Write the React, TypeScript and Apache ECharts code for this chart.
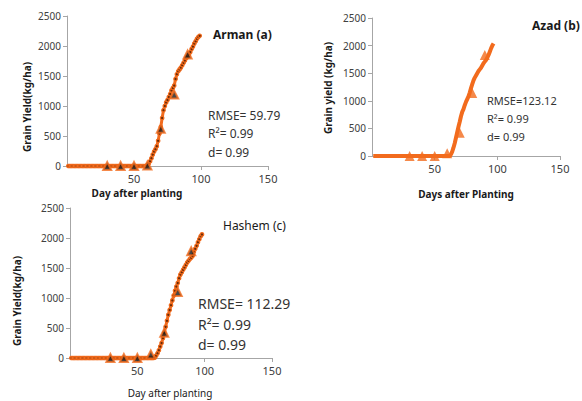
import React, { useEffect, useRef } from "react";
import * as echarts from "echarts";

const ORANGE = "#F26B1D";
const FONT = "'Noto Sans', sans-serif";

const xTicks = [0, 50, 100, 150];
const yTicks = [0, 500, 1000, 1500, 2000, 2500];

// Observed (measured) grain yield, triangles
const obsDays = [30, 40, 50, 60, 70, 80, 90];
const obsA = [0, 0, 0, 10, 620, 1190, 1860];
const obsB = [0, 0, 0, 50, 420, 1140, 1830];
const obsC = [0, 0, 0, 60, 420, 1100, 1780];

// Simulated grain yield, one value per day starting at day 1
const simA = [
  0, 0, 0, 0, 0, 0, 0, 0, 0, 0,
  0, 0, 0, 0, 0, 0, 0, 0, 0, 0,
  0, 0, 0, 0, 0, 0, 0, 0, 0, 0,
  0, 0, 0, 0, 0, 0, 0, 0, 0, 0,
  0, 0, 0, 0, 0, 0, 0, 0, 0, 0,
  0, 0, 0, 0, 0, 0, 0, 0,
  0, 15, 40, 80, 130, 190, 240, 280, 330, 420,
  540, 650, 800, 930, 1000, 1060, 1100, 1150, 1200, 1260,
  1300, 1340, 1450, 1530, 1580, 1610, 1640, 1680, 1720, 1760,
  1800, 1830, 1860, 1900, 1950, 1990, 2040, 2080, 2120, 2150,
  2170,
];
const simB = [
  0, 0, 0, 0, 0, 0, 0, 0, 0, 0,
  0, 0, 0, 0, 0, 0, 0, 0, 0, 0,
  0, 0, 0, 0, 0, 0, 0, 0, 0, 0,
  0, 0, 0, 0, 0, 0, 0, 0, 0, 0,
  0, 0, 0, 0, 0, 0, 0, 0, 0, 0,
  0, 0, 0, 0, 0, 0, 0, 0, 0, 0,
  0, 0,
  30, 80, 150, 230, 330, 430, 530, 620, 720, 800,
  850, 920, 980, 1030, 1080, 1150, 1230, 1300, 1370, 1420,
  1460, 1500, 1540, 1570, 1600, 1640, 1680, 1710, 1740, 1780,
  1830, 1890, 1950, 2000, 2040,
];
const simC = [
  0, 0, 0, 0, 0, 0, 0, 0, 0, 0,
  0, 0, 0, 0, 0, 0, 0, 0, 0, 0,
  0, 0, 0, 0, 0, 0, 0, 0, 0, 0,
  0, 0, 0, 0, 0, 0, 0, 0, 0, 0,
  0, 0, 0, 0, 0, 0, 0, 0, 0, 0,
  0, 0, 0, 0, 0, 0, 0, 0, 0, 0,
  0, 0,
  10, 40, 80, 130, 190, 250, 330, 420, 520, 620,
  720, 800, 880, 960, 1040, 1120, 1190, 1250, 1330, 1390,
  1430, 1470, 1510, 1550, 1590, 1620, 1650, 1670, 1700, 1770,
  1820, 1870, 1930, 1980, 2030, 2060,
];

const panelNames = ["Arman (a)", "Azad (b)", "Hashem (c)"];
const xTitles = ["Day after planting", "Days after Planting", "Day after planting"];
const yTitles = ["Grain Yield(kg/ha)", "Grain yield (kg/ha)", "Grain Yield(kg/ha)"];
const statsA = ["RMSE= 59.79", "R²= 0.99", "d= 0.99"];
const statsB = ["RMSE=123.12", "R²= 0.99", "d= 0.99"];
const statsC = ["RMSE= 112.29", "R²= 0.99", "d= 0.99"];

export default function App() {
  const ref = useRef<HTMLDivElement>(null);

  useEffect(() => {
    document.body.style.margin = "0";
    if (!ref.current) return;
    const chart = echarts.init(ref.current, null, { renderer: "svg" });

    const grids = [
      { left: 67, top: 16, width: 201, height: 150 },
      { left: 372, top: 18, width: 188, height: 138 },
      { left: 70, top: 208, width: 202, height: 150 },
    ];

    const axisLine = { show: true, lineStyle: { color: "#A6A6A6", width: 1 } };
    const axisTick = { show: true, inside: false, length: 4, lineStyle: { color: "#A6A6A6" } };

    const xAxes = grids.map((_, i) => ({
      type: "value",
      gridIndex: i,
      min: xTicks[0],
      max: xTicks[xTicks.length - 1],
      interval: 50,
      axisLine,
      axisTick,
      splitLine: { show: false },
      axisLabel: {
        showMinLabel: false,
        color: "#404040",
        fontSize: 11,
        fontFamily: FONT,
        margin: 7,
        formatter: (v: number) => String(v),
      },
    }));
    const yAxes = grids.map((_, i) => ({
      type: "value",
      gridIndex: i,
      min: yTicks[0],
      max: yTicks[yTicks.length - 1],
      interval: 500,
      axisLine,
      axisTick,
      splitLine: { show: false },
      axisLabel: {
        color: "#404040",
        fontSize: 10,
        fontFamily: FONT,
        margin: 6,
        formatter: (v: number) => String(v),
      },
    }));

    const sims = [simA, simB, simC];
    const obs = [obsA, obsB, obsC];

    const series: any[] = [];
    sims.forEach((s, i) => {
      const dotted = i !== 1;
      series.push({
        type: "line",
        xAxisIndex: i,
        yAxisIndex: i,
        data: s.map((v, d) => [d + 1, v]),
        showSymbol: dotted,
        symbol: "circle",
        symbolSize: 3.5,
        itemStyle: { color: "#6a2c08", borderColor: ORANGE, borderWidth: 1.2 },
        lineStyle: { color: ORANGE, width: dotted ? 3 : 4 },
        z: 2,
      });
    });
    obs.forEach((o, i) => {
      const dotted = i !== 1;
      series.push({
        type: "scatter",
        xAxisIndex: i,
        yAxisIndex: i,
        data: o.map((v, k) => [obsDays[k], v]),
        symbol: "triangle",
        symbolSize: dotted ? 8 : 10,
        itemStyle: dotted
          ? { color: "#1a1a1a", borderColor: ORANGE, borderWidth: 2 }
          : { color: ORANGE },
        z: 3,
      });
    });

    const txt = (x: number, y: number, text: string, o: any = {}) => ({
      type: "text",
      x,
      y,
      rotation: o.rotation || 0,
      style: {
        text,
        fill: o.fill || "#1a1a1a",
        font: `${o.weight || "normal"} ${o.size || 12}px ${FONT}`,
        textAlign: o.align || "left",
        textVerticalAlign: "middle",
      },
    });

    const graphic: any[] = [
      txt(213, 34, panelNames[0], { weight: "bold", size: 12 }),
      txt(532, 25, panelNames[1], { weight: "bold", size: 12 }),
      txt(223, 225, panelNames[2], { size: 12 }),
      txt(137, 193, xTitles[0], { weight: "bold", size: 10, align: "center" }),
      txt(466, 194, xTitles[1], { weight: "bold", size: 10, align: "center" }),
      txt(170, 393, xTitles[2], { size: 10, align: "center" }),
      txt(27, 107, yTitles[0], { weight: "bold", size: 10, align: "center", rotation: Math.PI / 2 }),
      txt(328, 88, yTitles[1], { weight: "bold", size: 10, align: "center", rotation: Math.PI / 2 }),
      txt(17, 301, yTitles[2], { weight: "bold", size: 10, align: "center", rotation: Math.PI / 2 }),
      txt(208, 115, statsA[0], { size: 12, fill: "#333" }),
      txt(208, 133, statsA[1], { size: 12, fill: "#333" }),
      txt(208, 152, statsA[2], { size: 12, fill: "#333" }),
      txt(487, 100, statsB[0], { size: 11, fill: "#333" }),
      txt(487, 118, statsB[1], { size: 11, fill: "#333" }),
      txt(487, 136, statsB[2], { size: 11, fill: "#333" }),
      txt(198, 303, statsC[0], { size: 14, fill: "#333" }),
      txt(198, 324, statsC[1], { size: 14, fill: "#333" }),
      txt(198, 344, statsC[2], { size: 14, fill: "#333" }),
    ];

    chart.setOption({
      animation: false,
      backgroundColor: "#ffffff",
      grid: grids,
      xAxis: xAxes,
      yAxis: yAxes,
      series,
      graphic,
    });

    return () => chart.dispose();
  }, []);

  return <div ref={ref} style={{ width: 582, height: 401 }} />;
}
